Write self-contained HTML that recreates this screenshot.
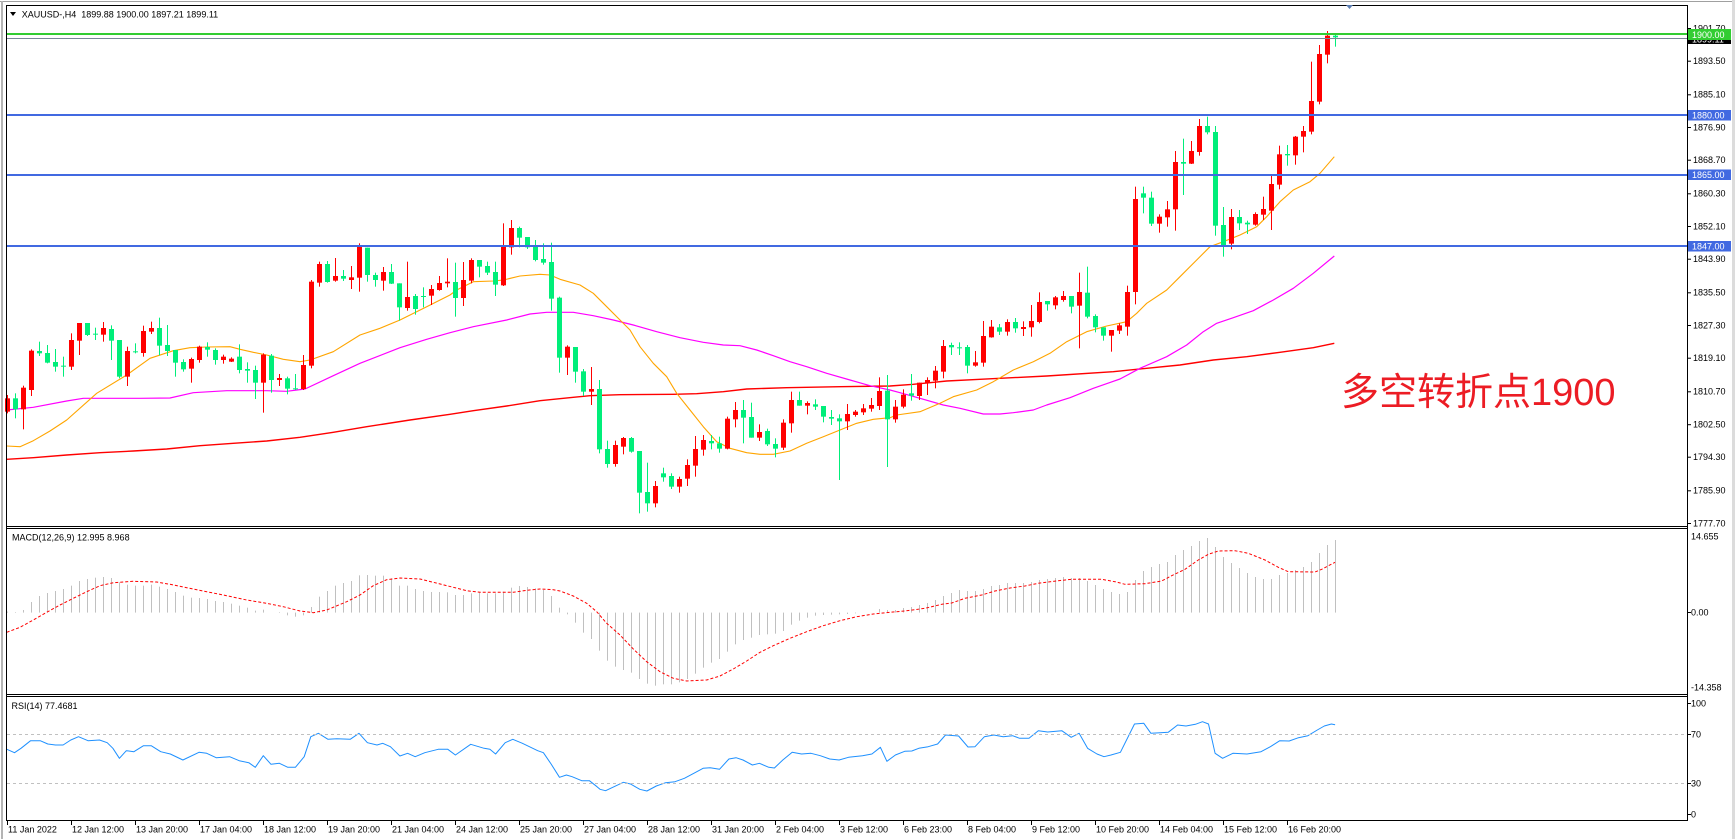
<!DOCTYPE html>
<html>
<head>
<meta charset="utf-8">
<style>
html,body{margin:0;padding:0;background:#fff;}
body{width:1735px;height:839px;overflow:hidden;position:relative;}
svg{position:absolute;left:0;top:0;}
.t{font-family:"Liberation Sans",sans-serif;font-size:9px;fill:#000;}
.w{font-family:"Liberation Sans",sans-serif;font-size:9px;fill:#fff;}
</style>
</head>
<body>
<svg id="c" width="1735" height="839" viewBox="0 0 1735 839" xmlns="http://www.w3.org/2000/svg">
<rect x="0" y="0" width="1735" height="839" fill="#fff"/>
<!-- outer window frame -->
<rect x="0" y="1" width="1733" height="1" fill="#A0A0A0"/>
<rect x="1" y="1" width="2" height="838" fill="#B4B4B4"/>
<rect x="1732" y="0" width="3" height="839" fill="#DCDCDC"/>

<g id="dyn"></g>

<!-- horizontal level lines -->
<rect x="6" y="33" width="1681" height="2" fill="#32CD32"/>
<rect x="6" y="38" width="1681" height="1" fill="#778899"/>
<rect x="6" y="114" width="1681" height="2" fill="#4169E1"/>
<rect x="6" y="174" width="1681" height="2" fill="#4169E1"/>
<rect x="6" y="245" width="1681" height="2" fill="#4169E1"/>

<!-- RSI levels -->
<line x1="7" y1="734.5" x2="1686" y2="734.5" stroke="#C0C0C0" stroke-width="1" stroke-dasharray="3,3"/>
<line x1="7" y1="783.5" x2="1686" y2="783.5" stroke="#C0C0C0" stroke-width="1" stroke-dasharray="3,3"/>

<!-- frames -->
<g fill="#000">
<rect x="6" y="5" width="1682" height="1"/>
<rect x="6" y="5" width="1" height="816"/>
<rect x="1687" y="5" width="1" height="816"/>
<rect x="6" y="526" width="1682" height="1"/>
<rect x="6" y="528" width="1682" height="1"/>
<rect x="6" y="694" width="1682" height="1"/>
<rect x="6" y="696" width="1682" height="1"/>
<rect x="6" y="820" width="1682" height="1"/>
</g>

<!-- title -->
<polygon points="10,12 16,12 13,16" fill="#000"/>
<text class="t" x="21.7" y="17.3" xml:space="preserve">XAUUSD-,H4  1899.88 1900.00 1897.21 1899.11</text>
<text class="t" x="12" y="540.3">MACD(12,26,9) 12.995 8.968</text>
<text class="t" x="11.5" y="709">RSI(14) 77.4681</text>

<!-- shift marker -->
<polygon points="1346,5 1353,5 1349.5,9" fill="#5B7DB1"/>

<!-- price axis ticks -->
<g fill="#000">
<rect x="1688" y="28" width="3" height="1"/><rect x="1688" y="60.7" width="3" height="1"/>
<rect x="1688" y="94.3" width="3" height="1"/><rect x="1688" y="127" width="3" height="1"/>
<rect x="1688" y="159.7" width="3" height="1"/><rect x="1688" y="193.3" width="3" height="1"/>
<rect x="1688" y="226" width="3" height="1"/><rect x="1688" y="258.7" width="3" height="1"/>
<rect x="1688" y="292.3" width="3" height="1"/><rect x="1688" y="325" width="3" height="1"/>
<rect x="1688" y="357.7" width="3" height="1"/><rect x="1688" y="391.3" width="3" height="1"/>
<rect x="1688" y="424.2" width="3" height="1"/><rect x="1688" y="456.7" width="3" height="1"/>
<rect x="1688" y="490.3" width="3" height="1"/><rect x="1688" y="523" width="3" height="1"/>
<rect x="1688" y="612" width="3" height="1"/>
<rect x="1688" y="703" width="3" height="1"/><rect x="1688" y="734" width="3" height="1"/>
<rect x="1688" y="783" width="3" height="1"/><rect x="1688" y="814" width="3" height="1"/>
</g>
<g class="t">
<text class="t" x="1693" y="31.3">1901.70</text>
<text class="t" x="1693" y="64">1893.50</text>
<text class="t" x="1693" y="97.6">1885.10</text>
<text class="t" x="1693" y="130.3">1876.90</text>
<text class="t" x="1693" y="163">1868.70</text>
<text class="t" x="1693" y="196.6">1860.30</text>
<text class="t" x="1693" y="229.3">1852.10</text>
<text class="t" x="1693" y="262">1843.90</text>
<text class="t" x="1693" y="295.6">1835.50</text>
<text class="t" x="1693" y="328.3">1827.30</text>
<text class="t" x="1693" y="361">1819.10</text>
<text class="t" x="1693" y="394.6">1810.70</text>
<text class="t" x="1693" y="427.5">1802.50</text>
<text class="t" x="1693" y="460">1794.30</text>
<text class="t" x="1693" y="493.6">1785.90</text>
<text class="t" x="1693" y="526.3">1777.70</text>
<text class="t" x="1691" y="539.3">14.655</text>
<text class="t" x="1691" y="615.3">0.00</text>
<text class="t" x="1691" y="690.3">-14.358</text>
<text class="t" x="1691" y="706.3">100</text>
<text class="t" x="1691" y="737.3">70</text>
<text class="t" x="1691" y="786.3">30</text>
<text class="t" x="1691" y="817.3">0</text>
</g>

<!-- price label boxes -->
<rect x="1688" y="33" width="43" height="11" fill="#000"/>
<text class="w" x="1692" y="42.5">1899.11</text>
<rect x="1688" y="29" width="43" height="11" fill="#32CD32"/>
<text class="w" x="1692" y="38">1900.00</text>
<rect x="1688" y="110" width="43" height="10.5" fill="#4169E1"/>
<text class="w" x="1692" y="118.6">1880.00</text>
<rect x="1688" y="169.5" width="43" height="10.5" fill="#4169E1"/>
<text class="w" x="1692" y="178.1">1865.00</text>
<rect x="1688" y="241" width="43" height="10.5" fill="#4169E1"/>
<text class="w" x="1692" y="249.6">1847.00</text>

<!-- time axis -->
<g fill="#000">
<rect x="7" y="820" width="1" height="5"/><rect x="71" y="820" width="1" height="5"/>
<rect x="135" y="820" width="1" height="5"/><rect x="199" y="820" width="1" height="5"/>
<rect x="263" y="820" width="1" height="5"/><rect x="327" y="820" width="1" height="5"/>
<rect x="391" y="820" width="1" height="5"/><rect x="455" y="820" width="1" height="5"/>
<rect x="519" y="820" width="1" height="5"/><rect x="583" y="820" width="1" height="5"/>
<rect x="647" y="820" width="1" height="5"/><rect x="711" y="820" width="1" height="5"/>
<rect x="775" y="820" width="1" height="5"/><rect x="839" y="820" width="1" height="5"/>
<rect x="903" y="820" width="1" height="5"/><rect x="967" y="820" width="1" height="5"/>
<rect x="1031" y="820" width="1" height="5"/><rect x="1095" y="820" width="1" height="5"/>
<rect x="1159" y="820" width="1" height="5"/><rect x="1223" y="820" width="1" height="5"/>
<rect x="1287" y="820" width="1" height="5"/>
</g>
<text class="t" x="8" y="832.5">11 Jan 2022</text>
<text class="t" x="72" y="832.5">12 Jan 12:00</text>
<text class="t" x="136" y="832.5">13 Jan 20:00</text>
<text class="t" x="200" y="832.5">17 Jan 04:00</text>
<text class="t" x="264" y="832.5">18 Jan 12:00</text>
<text class="t" x="328" y="832.5">19 Jan 20:00</text>
<text class="t" x="392" y="832.5">21 Jan 04:00</text>
<text class="t" x="456" y="832.5">24 Jan 12:00</text>
<text class="t" x="520" y="832.5">25 Jan 20:00</text>
<text class="t" x="584" y="832.5">27 Jan 04:00</text>
<text class="t" x="648" y="832.5">28 Jan 12:00</text>
<text class="t" x="712" y="832.5">31 Jan 20:00</text>
<text class="t" x="776" y="832.5">2 Feb 04:00</text>
<text class="t" x="840" y="832.5">3 Feb 12:00</text>
<text class="t" x="904" y="832.5">6 Feb 23:00</text>
<text class="t" x="968" y="832.5">8 Feb 04:00</text>
<text class="t" x="1032" y="832.5">9 Feb 12:00</text>
<text class="t" x="1096" y="832.5">10 Feb 20:00</text>
<text class="t" x="1160" y="832.5">14 Feb 04:00</text>
<text class="t" x="1224" y="832.5">15 Feb 12:00</text>
<text class="t" x="1288" y="832.5">16 Feb 20:00</text>

<!-- annotation -->
<text x="1341" y="405" font-size="38" fill="#EC1C24" font-family="'Liberation Sans','Noto Sans CJK SC',sans-serif">多空转折点1900</text>
</svg>

<script>
(function(){
var out=[];
function f(n){return Math.round(n*100)/100;}
function poly(pts,color,w,dash){
  var s=pts.map(function(p){return f(p[0])+','+f(p[1]);}).join(' ');
  out.push('<polyline points="'+s+'" fill="none" stroke="'+color+'" stroke-width="'+w+'"'+(dash?' stroke-dasharray="'+dash+'"':'')+' stroke-linejoin="round"/>');
}
// Moving averages
var red=[[6.7,459.3],[33.3,457.7],[66.7,455],[100,452.7],[133.3,451],[166.7,449],[200,445.7],[233.3,443.3],[266.7,441],[300,437.3],[333.3,432.3],[366.7,426.7],[410,420],[450,414.3],[473.3,410.7],[506.7,406],[540,400.7],[573.3,397.3],[590,395.7],[620,394.7],[673.3,394.3],[696.7,393.7],[723.3,391.7],[746.7,389],[786.7,387.7],[840,386.7],[890,386],[913.3,384.3],[946.7,381],[980,379.3],[1046.7,376],[1113.3,371.7],[1146.7,368.3],[1180,365],[1213.3,360],[1246.7,356.7],[1280,352.3],[1313.3,347.7],[1334.3,343.3]];
var mag=[[6.7,410],[33.3,407.3],[66.7,401],[83.3,398.3],[140,398.3],[170,398],[193.3,392.7],[226.7,390.7],[266.7,390.7],[286.7,391.3],[305,389],[333.3,375.7],[360,363.3],[400,347.7],[426.7,339.3],[450,332.7],[473.3,326.7],[506.7,320],[530,314],[546.7,312.3],[573.3,312.3],[593.3,315.7],[613.3,320],[633.3,325],[656.7,331.7],[680,337.7],[703.3,342.3],[723.3,345],[740,345.7],[756.7,350],[773.3,355.7],[790,361.7],[806.7,366.7],[826.7,373.3],[850,380],[870,385.7],[890,390],[900,392.7],[920,398.3],[943.3,405],[960,408.3],[983.3,414],[1000,414],[1013.3,412.7],[1033.3,410],[1046.7,405],[1070,397.7],[1093.3,388.3],[1120,379],[1140,368.3],[1166.7,356.7],[1186.7,345],[1203.3,331.7],[1216.7,323.3],[1233.3,317.7],[1253.3,310.7],[1273.3,300],[1293.3,288.3],[1313.3,273.3],[1334.3,256]];
var ora=[[6.7,446],[20,446.7],[33.3,440.7],[50,431],[66.7,420],[96.7,393.3],[126.7,375],[150,358.3],[173.3,350.7],[190,347.7],[206.7,347],[230,346.7],[240,349.3],[253.3,352.3],[266.7,355],[283.3,359.3],[300,361.7],[310,360],[333.3,351.7],[360,335],[380,328.3],[400,320],[426.7,306.7],[450,295],[456.7,290],[473.3,281.7],[493.3,281],[503.3,280],[520,276],[540,274.3],[550,275],[560,279.3],[580,285],[593.3,293.3],[606.7,306.7],[620,320],[630,330],[640,346.7],[653.3,363.3],[666.7,376.7],[676.7,393.3],[690,410],[703.3,426.7],[716.7,441.7],[730,448.3],[746.7,452.7],[760,454.3],[773.3,454.3],[790,451],[806.7,443.3],[823.3,436.7],[840,430],[856.7,423.3],[873.3,419.3],[890,417.7],[896.7,415],[920,411.7],[940,403.3],[953.3,396.7],[976.7,390],[993.3,381.7],[1013.3,370],[1033.3,361.7],[1050,353.3],[1066.7,341.7],[1086.7,331.7],[1106.7,326],[1126.7,321.7],[1136.7,313.3],[1146.7,303.3],[1166.7,290],[1180,276.7],[1196.7,260],[1210,246.7],[1223.3,241.7],[1240,235],[1256.7,226.7],[1266.7,216.7],[1280,201.7],[1293.3,190],[1310,181.7],[1320,173.3],[1334.3,156.7]];
poly(red,'#FF0000',1.4);
poly(mag,'#FF00FF',1.2);
poly(ora,'#FFA500',1.1);

// Candles
var segs=[
 {s:0,o:200,d:"r585,595,635,640 g580,595,628,655 r557,563,628,688 r448,452,570,588 g425,453,460,468 g435,459,488,490 g447,486,500,515 g470,497,499,530 r400,420,500,510 r369,369,422,465 g369,369,405,408 g383,401,403,420 r366,384,404,425 g376,387,422,480 g420,420,530,535 r440,453,530,558 g430,454,456,460 r377,393,459,470 r365,384,395,402 g353,384,437,466 g375,435,453,468 g450,450,488,530 g478,486,508,515 r473,477,506,548 r437,440,480,488 g427,441,449,470 g445,450,480,494 r464,470,480,491 r472,476,485,486 g433,470,510,520 g487,507,512,548 g497,510,548,597 r460,464,548,638 g462,467,540,578 r522,534,540,558 g530,535,566,583 g522,565,567,570 r465,495,567,570 r240,245,497,505 r185,192,248,260 g183,192,246,248 r174,228,242,245 g210,228,236,243 r198,232,240,267 r130,140,233,275 g143,143,225,245 g218,225,240,260 r201,216,242,272 g192,216,251,252 g250,250,322,362 r185,291,324,332 g282,288,327,344 g262,288,290,322 r255,267,287,315 r228,249,270,272 r175,245,250,262"},
 {s:56,o:190,d:"g218,276,324,380 r216,270,324,348 r205,210,272,280 g210,210,230,262 g215,228,248,255 g215,246,284,318 r100,170,286,288 r90,114,172,194 g110,114,143,172 g141,141,172,177 g150,168,210,214 g160,207,218,224 g158,216,326,362 g320,323,503,548 r466,470,503,555 g471,471,545,578 g537,544,605,618 r531,597,605,645 g570,597,778,790 g752,777,822,833 r752,765,822,830 r741,744,770,793 g741,744,785,788 g783,783,908,970 g818,906,940,965 r873,888,940,952 g833,850,862,875 g850,858,890,897 r860,867,890,908 r808,825,866,888 r738,777,827,860 r735,750,779,797 g735,753,760,778 g740,760,776,788 r680,686,776,778 r636,660,688,712 g630,660,683,760 g638,681,743,743 r703,726,743,753 g716,723,763,768 g745,762,776,802 r688,698,773,780 r605,630,700,728 g605,630,647,647 r634,639,647,673 g628,643,650,660 g648,648,680,697 g660,681,686,705 g673,685,694,870 r642,672,694,720 r660,665,675,680 r642,655,667,675 r624,645,656,665 r562,603,648,660"},
 {s:110,o:20,d:"g1065,1112,1198,1341 r1140,1160,1198,1208 r1108,1124,1160,1165 g1062,1120,1127,1142 r1088,1088,1128,1140 r1072,1080,1088,1125 r1038,1052,1082,1105 r960,978,1055,1075 g968,975,982,1005 g967,982,984,1005 g975,981,1037,1060 r993,1027,1037,1040 r903,948,1028,1040 r900,920,952,953 g912,922,935,945 r898,906,935,947 g894,906,925,938 r904,921,927,948 r855,903,922,950 r817,846,906,910 g843,843,853,872 r828,832,856,868 r813,828,840,845 g828,828,860,880 r758,816,857,985 g740,818,890,895 g883,888,922,937 g922,922,947,962 r930,930,947,995 r910,916,932,942 r797,816,920,947 r500,537,816,853 g500,520,533,580 g515,533,611,618 r583,590,611,638 r543,568,592,620 r393,426,568,632 g356,426,431,525 r363,393,431,432 r297,318,396,407 g290,318,337,343 g318,336,617,647 g561,615,680,710 r567,591,671,688 g570,591,610,630 g602,608,613,642 r577,582,614,617 r530,567,584,600 r467,492,572,630 r377,403,494,508 g375,402,406,437 r348,350,406,434 r318,333,350,397 r125,243,335,343 r75,102,245,253 r33,47,104,130 g43,47,52,80"}
];
segs.forEach(function(sg){
  sg.d.split(' ').forEach(function(tok,k){
    var i=sg.s+k;
    var col=tok[0]==='r'?'#FF0000':'#00EE7A';
    var v=tok.slice(1).split(',').map(Number).map(function(z){return sg.o+z/3;});
    var x=7.5+8*i;
    var wt=v[0],bt=v[1],bb=v[2],wb=v[3];
    out.push('<rect x="'+(x-0.5)+'" y="'+f(wt)+'" width="1" height="'+f(Math.max(1,wb-wt))+'" fill="'+col+'"/>');
    out.push('<rect x="'+(x-2.5)+'" y="'+f(bt)+'" width="5" height="'+f(Math.max(1,bb-bt))+'" fill="'+col+'"/>');
  });
});

// MACD histogram
var base=612.6;
var hs=[
 {s:0,o:420,v:[575,576,570,546,528,519,513,507,497,483,477,473,471,474,487,494,497,497,494,500,507,516,527,533,534,537,543,546,551,557,563,572,569,578,576,586,590,586,561,530,513,497,489,483,466,465,467,467,475,497,497,507,513,516,516,517]},
 {s:56,o:525,v:[210,210,205,203,205,205,200,188,183,186,190,195,213,248,268,293,323,342,377,407,425,435,443,462,476,482,478,478,472,462,446,428,413,402,380,358,345,338,330,328,326,318,299,287,278,272,270,269,268,267,265,264,262,252]},
 {s:110,o:525,v:[255,255,249,246,240,234,225,213,204,195,198,198,192,183,180,174,174,174,171,165,162,159,156,159,159,168,180,192,201,207,201,165,138,126,117,111,90,75,63,48,39,66,96,114,129,144,156,162,162,150,144,135,126,111,84,60,45]}
];
hs.forEach(function(h){
  h.v.forEach(function(z,k){
    var i=h.s+k, x=7.5+8*i, y=h.o+z/3;
    var t=Math.min(y,base), b=Math.max(y,base);
    if(b-t<0.6) return;
    out.push('<rect x="'+(x-0.5)+'" y="'+f(t)+'" width="1" height="'+f(b-t)+'" fill="#C0C0C0"/>');
  });
});
var sig=[[6.7,632.3],[20,627.3],[33.3,620],[46.7,612.3],[60,605],[73.3,598.3],[86.7,591.7],[100,585.7],[113.3,582.7],[133.3,581.3],[156.7,582],[170,584.3],[186.7,587.7],[206.7,591.7],[226.7,595.7],[246.7,600],[266.7,603.3],[283.3,606.7],[300,611],[313.3,612.7],[326.7,610],[346.7,601.7],[360,595],[373.3,585.7],[386.7,579.7],[400,578],[420,579],[433.3,582.3],[453.3,587.3],[466.7,590.7],[480,592.3],[513.3,592.3],[526.7,590.3],[540,589],[553.3,589.7],[560,591],[573.3,596],[586.7,603.3],[596.7,611.7],[606.7,623.3],[620,635],[633.3,649],[646.7,661.7],[660,671.7],[673.3,678.3],[686.7,681],[706.7,680],[720,676],[733.3,669],[746.7,661],[760,652.3],[773.3,645.7],[790,638.3],[806.7,631.7],[823.3,625.7],[840,620.7],[856.7,616.7],[873.3,614],[890,612.3],[905,611],[925,608.3],[941.7,604.3],[951.7,603],[965,598.3],[981.7,595],[995,591],[1011.7,587.7],[1025,586],[1038.3,583.3],[1058.3,580.7],[1071.7,579.3],[1101.7,579.3],[1115,581.7],[1125,584.3],[1145,583.7],[1161.7,581],[1171.7,575.7],[1185,569.3],[1198.3,560],[1208.3,554.3],[1218.3,551],[1235,550.7],[1248.3,553.3],[1265,560],[1278.3,567.3],[1288.3,571.7],[1315,572],[1321.7,569.3],[1335,562.3]];
poly(sig,'#FF0000',1,'3,2');

// RSI
var rsi=[[6.9,749.3],[14.5,752.7],[21,748.3],[30.6,740.7],[40.2,740.7],[47.8,744],[55.5,745],[63.1,745],[70.8,740],[78.5,736.7],[88,740.7],[99.5,740],[107.2,742.7],[112.9,748.3],[119.4,758.3],[126.3,750.7],[133.9,751.7],[143.5,745.7],[151.2,745.7],[160.7,751.7],[170.3,754],[182.9,760],[199,752.3],[206.7,753.3],[216.2,757.7],[229.6,756.7],[239.2,760.7],[248.8,762.7],[255.3,767.3],[263.3,755.7],[271,764.3],[279.4,763.3],[287.8,767.3],[295.4,767.3],[304.2,756.7],[310.8,736.7],[318.4,733.3],[328,739.3],[336.8,738.7],[350.2,739.3],[359,733.3],[367.4,742.7],[377,745],[382.7,743.3],[390.4,746.7],[399.9,756],[407.6,753.3],[415.2,756.7],[424.8,752.7],[438.2,749.3],[447.8,749.3],[455.4,755],[470.7,744.3],[484.1,748.3],[489.9,749.3],[495.6,754],[505.2,742.7],[512.8,739.3],[522.4,743.3],[537.7,750.7],[543.4,752.7],[551.1,764],[559.5,777.3],[566.4,775],[572.1,776.7],[581.7,780.7],[589.4,780.7],[597,786.7],[600,789.3],[605.6,790.7],[614.1,786.7],[623.4,782.3],[630.5,784],[639.8,789.3],[646.9,791],[656.3,786],[665.6,782.7],[675,781.7],[684.4,778.3],[693.8,773.3],[703.1,768.3],[710.2,767.7],[719.5,769.3],[728.9,759],[736,757.7],[743,760],[752.4,765],[759.4,763.3],[768.8,767.3],[774.4,768],[782.8,760],[792.2,752.3],[801.6,754],[811,753.3],[820.3,755.7],[829.7,759],[839.1,760],[848.5,757.3],[862.5,755.7],[871.9,754],[880.4,747.3],[886.9,761.3],[895.4,755],[904.7,751.3],[911.8,751],[918.8,748.3],[928.2,746.7],[937.6,744],[945.5,735],[958.6,736],[968,747],[975,746.7],[984.4,736.7],[993.8,735],[1003.2,736.7],[1012.6,735.7],[1019.6,738.3],[1029,738.3],[1038.3,730.7],[1047.7,732],[1061.8,730.7],[1071.2,737.3],[1079.1,733.3],[1087.6,748.3],[1097,754],[1104,756.7],[1111,755],[1120.4,752.3],[1134.5,724],[1143.8,723.3],[1150.9,733.3],[1160.2,732.7],[1168.2,732.3],[1177.6,725],[1186,726],[1195.4,724.3],[1202.5,721.7],[1208.5,724],[1215.1,753.3],[1222.6,758.3],[1232.9,753.3],[1247,754],[1261,751.7],[1270.4,746.7],[1279.8,740.7],[1289.2,741],[1298.5,737.7],[1307.9,735.7],[1317.3,730],[1324.3,726],[1331.4,724],[1335.1,724.7]];
poly(rsi,'#1E90FF',1);

document.getElementById('dyn').innerHTML=out.join('');
})();
</script>
</body>
</html>
